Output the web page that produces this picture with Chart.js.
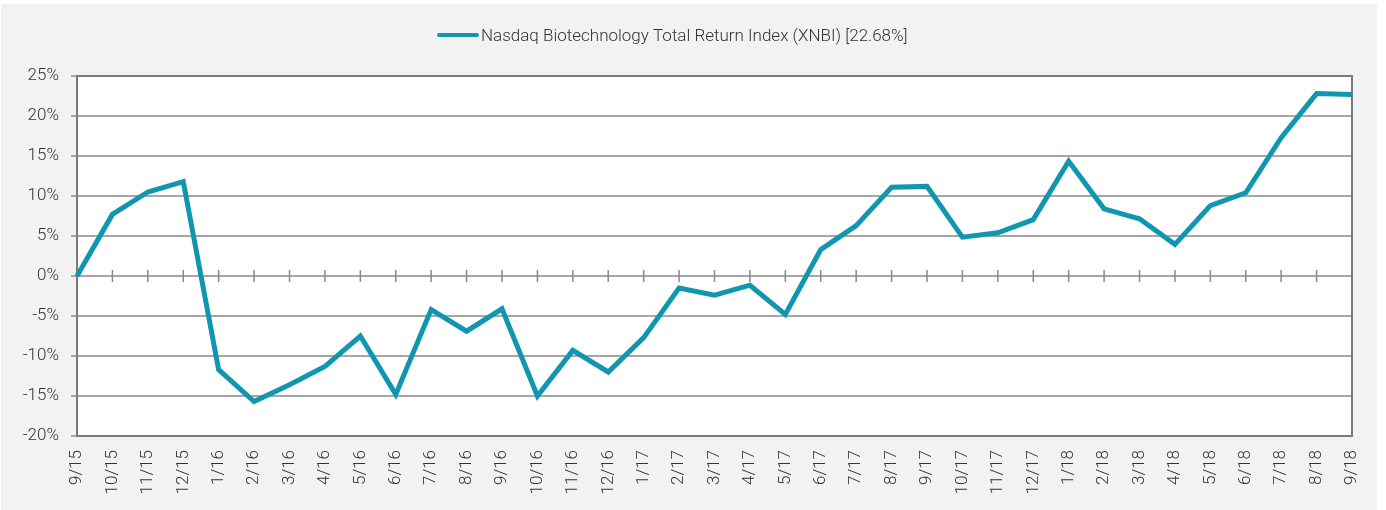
<!DOCTYPE html>
<html>
<head>
<meta charset="utf-8">
<script src="https://cdn.jsdelivr.net/npm/chart.js@4.4.0/dist/chart.umd.min.js"></script>
<style>
  html, body { margin: 0; padding: 0; background: #ffffff; }
  #wrap { position: absolute; left: 1px; top: 4px; width: 1376px; height: 506px; background: #f2f2f2; }
</style>
</head>
<body>
<div id="wrap"><canvas id="xnbi" width="1376" height="506"></canvas></div>
<script>
const months = [
  "9/15", "10/15", "11/15", "12/15", "1/16", "2/16", "3/16", "4/16", "5/16", "6/16",
  "7/16", "8/16", "9/16", "10/16", "11/16", "12/16", "1/17", "2/17", "3/17", "4/17",
  "5/17", "6/17", "7/17", "8/17", "9/17", "10/17", "11/17", "12/17", "1/18", "2/18",
  "3/18", "4/18", "5/18", "6/18", "7/18", "8/18", "9/18"
];

// cumulative total return, %
const xnbiReturn = [
  0, 7.7, 10.5, 11.8, -11.7, -15.7, -13.6, -11.3, -7.5, -14.8,
  -4.2, -6.9, -4.1, -15.0, -9.3, -12.0, -7.7, -1.5, -2.4, -1.15,
  -4.8, 3.3, 6.3, 11.1, 11.2, 4.85, 5.4, 7.05, 14.35, 8.4,
  7.15, 3.95, 8.8, 10.4, 17.3, 22.8, 22.68
];

const yTicks = [-20, -15, -10, -5, 0, 5, 10, 15, 20, 25];

const seriesLabel = "Nasdaq Biotechnology Total Return Index (XNBI) [22.68%]";
const lineColor = "#1096b0";
const fontFamily = "Roboto, 'Liberation Sans', sans-serif";

// white plot area + dark frame, tick marks along the zero line, legend line
const plotDecor = {
  id: "plotDecor",
  beforeDraw(chart) {
    const { ctx, chartArea: a } = chart;
    ctx.save();
    ctx.fillStyle = "#ffffff";
    ctx.fillRect(a.left, a.top, a.right - a.left, a.bottom - a.top);
    ctx.restore();
  },
  beforeDatasetsDraw(chart) {
    const { ctx, chartArea: a, scales } = chart;
    const y0 = scales.y.getPixelForValue(0);
    ctx.save();
    ctx.strokeStyle = "#8a8a8a";
    ctx.lineWidth = 1.5;
    months.forEach((m, i) => {
      if (i === 0) return;
      const x = scales.x.getPixelForValue(i);
      ctx.beginPath();
      ctx.moveTo(x, y0 - 6);
      ctx.lineTo(x, y0 + 6);
      ctx.stroke();
    });
    ctx.strokeStyle = "#7a7a7a";
    ctx.lineWidth = 2;
    ctx.strokeRect(a.left, a.top, a.right - a.left, a.bottom - a.top);
    ctx.restore();
  },
  afterDraw(chart) {
    const { ctx } = chart;
    const ds = chart.data.datasets[0];
    ctx.save();
    ctx.strokeStyle = ds.borderColor;
    ctx.lineWidth = 4;
    ctx.lineCap = "round";
    ctx.beginPath();
    ctx.moveTo(438, 31);
    ctx.lineTo(476, 31);
    ctx.stroke();
    ctx.fillStyle = "#333333";
    ctx.font = "300 17px " + fontFamily;
    ctx.textBaseline = "middle";
    ctx.fillText(ds.label, 480, 33);
    ctx.restore();
  }
};

new Chart(document.getElementById("xnbi"), {
  type: "line",
  data: {
    labels: months,
    datasets: [{
      label: seriesLabel,
      data: xnbiReturn,
      borderColor: lineColor,
      borderWidth: 5,
      pointRadius: 0,
      tension: 0,
      fill: false
    }]
  },
  options: {
    responsive: false,
    animation: false,
    layout: { padding: { top: 72, right: 25, left: 0, bottom: 0 } },
    plugins: {
      legend: { display: false },
      tooltip: { enabled: false }
    },
    scales: {
      x: {
        offset: false,
        grid: { display: false, drawTicks: false },
        border: { display: false },
        ticks: {
          autoSkip: false,
          minRotation: 90,
          maxRotation: 90,
          padding: 14,
          color: "#333333",
          font: { family: fontFamily, size: 17, weight: 300 }
        },
        afterFit(scale) {
          scale.height = 74;
          scale.paddingLeft = 0;
          scale.paddingRight = 0;
        }
      },
      y: {
        min: -20,
        max: 25,
        afterBuildTicks(scale) { scale.ticks = yTicks.map(v => ({ value: v })); },
        grid: {
          color: "#a6a6a6",
          lineWidth: 2,
          tickLength: 6
        },
        border: { display: false },
        ticks: {
          padding: 12,
          color: "#333333",
          font: { family: fontFamily, size: 17, weight: 300 },
          callback: v => v + "%"
        },
        afterFit(scale) {
          scale.width = 76;
          scale.paddingTop = 0;
          scale.paddingBottom = 0;
        }
      }
    }
  },
  plugins: [plotDecor]
});
</script>
</body>
</html>
